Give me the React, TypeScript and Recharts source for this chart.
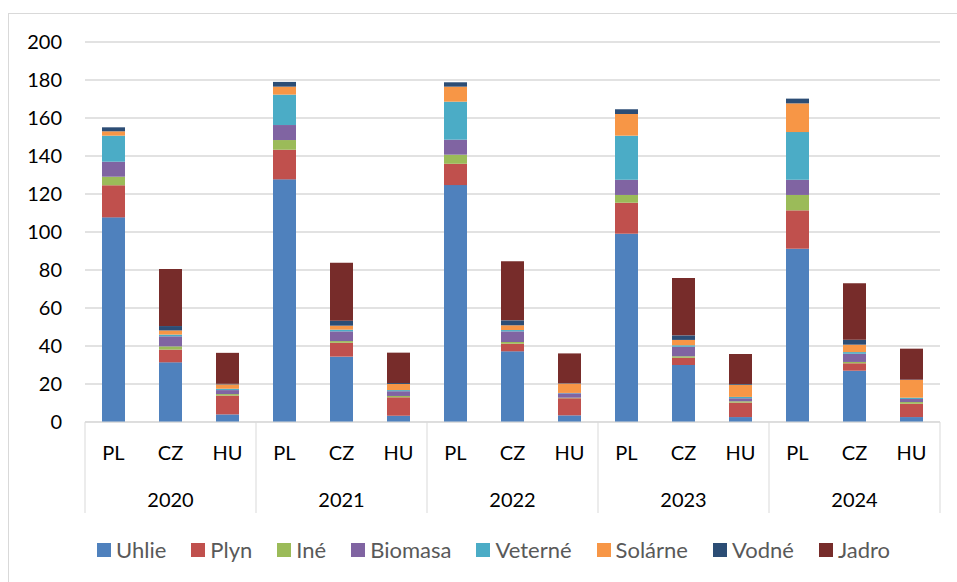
import React from 'react';
import { Bar, BarChart, CartesianGrid, Legend, XAxis, YAxis } from 'recharts';

const FONT = 'Lato, "Open Sans", sans-serif';

const years = ['2020', '2021', '2022', '2023', '2024'];
const countries = ['PL', 'CZ', 'HU'];

// values per bar, order: 2020 PL, CZ, HU, 2021 PL, ...
const uhlie = [107.7, 31.4, 4.0, 127.7, 34.4, 3.3, 124.7, 37.2, 3.5, 99.1, 30.0, 2.6, 91.2, 27.0, 2.6];
const plyn = [16.9, 6.7, 9.9, 15.6, 7.3, 9.7, 11.2, 4.0, 9.0, 16.3, 3.8, 7.6, 20.2, 3.9, 7.0];
const ine = [4.5, 1.7, 0.8, 5.1, 0.9, 0.7, 4.8, 0.9, 0.3, 4.1, 0.8, 0.7, 8.1, 0.7, 0.9];
const biomasa = [7.9, 5.3, 2.1, 7.9, 5.1, 2.5, 7.9, 5.6, 2.3, 8.0, 5.0, 1.6, 8.0, 4.3, 1.6];
const veterne = [13.7, 0.9, 0.7, 16.0, 0.9, 0.6, 20.0, 0.7, 0.2, 23.2, 0.8, 0.7, 25.1, 0.9, 0.7];
const solarne = [2.3, 2.2, 2.3, 4.2, 2.1, 3.2, 7.9, 2.5, 4.9, 11.4, 2.8, 6.4, 15.1, 3.9, 9.3];
const vodne = [2.1, 2.3, 0.3, 2.5, 2.6, 0.5, 2.3, 2.6, 0.2, 2.5, 2.4, 0.4, 2.5, 2.6, 0.2];
const jadro = [0, 30.0, 16.3, 0, 30.5, 16.0, 0, 31.1, 15.7, 0, 30.2, 15.8, 0, 29.7, 16.3];

const yTicks = [0, 20, 40, 60, 80, 100, 120, 140, 160, 180, 200];

const SERIES = [
  { key: 'Uhlie', values: uhlie, color: '#4F81BD' },
  { key: 'Plyn', values: plyn, color: '#C0504D' },
  { key: 'Iné', values: ine, color: '#9BBB59' },
  { key: 'Biomasa', values: biomasa, color: '#8064A2' },
  { key: 'Veterné', values: veterne, color: '#4BACC6' },
  { key: 'Solárne', values: solarne, color: '#F79646' },
  { key: 'Vodné', values: vodne, color: '#2C4D75' },
  { key: 'Jadro', values: jadro, color: '#772C2A' },
];

const data = years.flatMap((year, yi) =>
  countries.map((country, ci) => {
    const i = yi * 3 + ci;
    const row: Record<string, string | number> = { id: `${year}-${country}`, country, year };
    SERIES.forEach((s) => {
      row[s.key] = s.values[i];
    });
    return row;
  }),
);

const W = 957;
const H = 582;
const M = { top: 42, right: 17, left: 0, bottom: 69 };
const BAND = (W - 85 - M.right) / data.length;

function YearTick(props: any) {
  const { x, y, payload } = props;
  const i = payload.index;
  const top = y - 71;
  const bottom = y + 20;
  return (
    <g>
      {i % 3 === 0 && <line x1={x - BAND / 2} x2={x - BAND / 2} y1={top} y2={bottom} stroke="#d9d9d9" />}
      {i === data.length - 1 && <line x1={x + BAND / 2} x2={x + BAND / 2} y1={top} y2={bottom} stroke="#d9d9d9" />}
      {i % 3 === 1 && (
        <text x={x} y={y} dy="0.71em" textAnchor="middle" fontSize={20} fill="#000" fontFamily={FONT}>
          {payload.value}
        </text>
      )}
    </g>
  );
}

function LegendContent() {
  return (
    <div style={{ display: 'flex', justifyContent: 'center', gap: 25, fontFamily: FONT, fontSize: 22, color: '#595959' }}>
      {SERIES.map((s) => (
        <div key={s.key} style={{ display: 'flex', alignItems: 'center' }}>
          <span style={{ width: 14, height: 14, background: s.color, marginRight: 5, display: 'inline-block' }} />
          <span>{s.key}</span>
        </div>
      ))}
    </div>
  );
}

export default function App() {
  return (
    <div style={{ position: 'absolute', left: 0, top: 0, width: W, height: H, background: '#fff', overflow: 'hidden' }}>
      <div style={{ position: 'absolute', left: 8, top: 13, width: W, height: H, border: '1px solid #d9d9d9' }} />
      <div style={{ position: 'absolute', left: 0, top: 0 }}>
        <BarChart width={W} height={H} data={data} margin={M}>
          <CartesianGrid vertical={false} stroke="#d9d9d9" strokeWidth={1.3} />
          <XAxis
            dataKey="country"
            height={55}
            tickLine={false}
            tickSize={0}
            tickMargin={24}
            axisLine={{ stroke: '#d9d9d9' }}
            tick={{ fontSize: 20, fill: '#000', fontFamily: FONT }}
            interval={0}
          />
          <XAxis
            xAxisId="year"
            dataKey="year"
            height={36}
            tickLine={false}
            tickSize={0}
            tickMargin={16}
            axisLine={false}
            tick={<YearTick />}
            interval={0}
          />
          <YAxis
            width={85}
            domain={[0, 200]}
            ticks={yTicks}
            axisLine={false}
            tickLine={false}
            tickSize={0}
            tickMargin={23}
            tick={{ fontSize: 20, fill: '#000', fontFamily: FONT }}
          />
          <Legend
            verticalAlign="middle"
            align="center"
            content={<LegendContent />}
            wrapperStyle={{ top: 536, left: 30, width: W - 30 }}
          />
          {SERIES.map((s) => (
            <Bar key={s.key} dataKey={s.key} stackId="a" fill={s.color} barSize={23} isAnimationActive={false} />
          ))}
        </BarChart>
      </div>
    </div>
  );
}
